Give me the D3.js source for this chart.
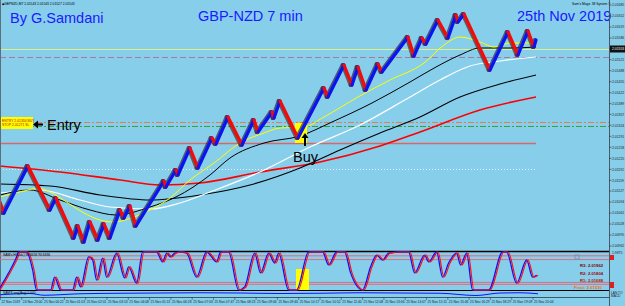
<!DOCTYPE html>
<html><head><meta charset="utf-8">
<script src="https://cdn.jsdelivr.net/npm/d3@7"></script>
<style>html,body{margin:0;padding:0;background:#87CEEB;overflow:hidden}text{font-family:"Liberation Sans",Arial,sans-serif}</style>
</head><body><svg id="c" width="625" height="306"></svg>
<script>
// ---------- DATA ----------
const pivotBar = [0,2,14,25,28,37,39,42,45,49,52,55,60,62,65,68,82,83,88,89,95,99,106,108,114,121,127,129,136,137,140,149,162,164,172,176,179,183,189,191,204,207,211,213,219,224,228,229,232,245,254,259,264,267,268];
const pivotPrice = [2.01094,2.01061,2.01202,2.01070,2.01106,2.00986,2.01022,2.00974,2.01034,2.00980,2.01028,2.00986,2.01070,2.01046,2.01082,2.01022,2.01157,2.01139,2.01190,2.01175,2.01256,2.01196,2.01286,2.01268,2.01349,2.01265,2.01340,2.01304,2.01364,2.01346,2.01397,2.01286,2.01436,2.01409,2.01505,2.01445,2.01499,2.01430,2.01508,2.01484,2.01589,2.01532,2.01586,2.01568,2.01640,2.01586,2.01655,2.01634,2.01658,2.01490,2.01604,2.01535,2.01607,2.01559,2.01580];

const yellowBar = [0,14,19,25,34,42,50,57,67,75,85,95,107,120,132,140,152,162,179,195,212,222,230,240,247,255,268];
const yellowVal = [2.01109,2.01130,2.01136,2.01124,2.01091,2.01061,2.01040,2.01034,2.01049,2.01070,2.01106,2.01160,2.01211,2.01271,2.01301,2.01316,2.01319,2.01349,2.01409,2.01460,2.01511,2.01565,2.01589,2.01574,2.01559,2.01571,2.01571];
const fastBlackBar = [0,15,30,45,58,75,88,105,115,132,150,166,186,205,218,230,240,255,268];
const fastBlackVal = [2.01115,2.01130,2.01100,2.01070,2.01055,2.01079,2.01109,2.01175,2.01226,2.01271,2.01292,2.01334,2.01391,2.01454,2.01499,2.01535,2.01556,2.01556,2.01559];
const whiteBar = [0,20,40,55,75,90,105,130,155,180,205,220,235,250,268];
const whiteVal = [2.01121,2.01130,2.01100,2.01079,2.01073,2.01091,2.01124,2.01184,2.01259,2.01325,2.01409,2.01460,2.01502,2.01517,2.01529];
const slowBlackBar = [0,25,50,75,100,125,150,170,190,210,230,250,268];
const slowBlackVal = [2.01148,2.01142,2.01115,2.01100,2.01115,2.01145,2.01196,2.01250,2.01301,2.01349,2.01409,2.01448,2.01475];
const redMABar = [0,30,60,80,100,130,160,190,210,240,268];
const redMAVal = [2.01202,2.01184,2.01160,2.01145,2.01151,2.01184,2.01214,2.01262,2.01304,2.01370,2.01409];

const bidPrice = 2.01553;
const purpleLevel = 2.01529;
const entryLevel = 2.01334;
const entryLevel2 = 2.01322;
const stopLevel = 2.01271;
const dottedLevel = 2.01193;
const buyBar = 149;

const priceTicks = [2.01685,2.01652,2.01619,2.01586,2.01554,2.01521,2.01488,2.01455,2.01422,2.01389,2.01357,2.01324,2.01291,2.01258,2.01225,2.01192,2.01159,2.01127,2.01094,2.01061,2.01028,2.00995,2.00962];

const oscBar = [0,5,9,10,14,17,19,26,28,31,37,39,41,45,47,49,52,54,59,63,65,69,72,79,82,84,86,88,91,94,99,104,109,111,115,120,123,128,131,135,138,140,145,149,155,162,165,169,173,176,182,186,189,192,195,201,205,208,213,215,219,222,225,229,231,234,237,245,252,254,259,264,267,269];
const oscVal = [0,45,87,100,100,53,0,0,34,0,0,34,8,87,79,26,84,34,97,32,61,18,100,100,74,97,87,97,100,97,34,100,74,100,100,0,8,97,45,97,71,97,0,0,100,100,66,100,100,45,0,61,92,79,97,100,100,45,92,74,100,34,71,97,66,97,0,0,100,100,18,79,34,39];
const oscLevels = [90,80,20,15];

const p2Bar = [0,15,22,40,60,80,100,120,140,160,180,200,220,238,250,260,269];
const p2Val = [-0.3,0.2,-0.5,0.1,0.3,0.4,0.5,0.4,0.2,0.3,0.5,0.4,0.3,-0.6,0.4,0.5,0.1];

const pivotLabels = ["R3: 2.01962","R2: 2.01804","R1: 2.01688","Pivot: 2.01530"];
const pivotColors = ["#7a0000","#a00010","#b02000","#ff6a00"];

const timeLabels = ["22 Nov 2019","24 Nov 23:00","25 Nov 00:22","25 Nov 01:03","25 Nov 02:01","25 Nov 03:13","25 Nov 04:08","25 Nov 05:13","25 Nov 06:28","25 Nov 07:03","25 Nov 07:47","25 Nov 08:23","25 Nov 09:06","25 Nov 09:46","25 Nov 10:17","25 Nov 10:52","25 Nov 11:40","25 Nov 12:08","25 Nov 13:06","25 Nov 14:07","25 Nov 15:11","25 Nov 15:46","25 Nov 16:29","25 Nov 18:29","25 Nov 19:09","25 Nov 20:04"];

// ---------- LAYOUT ----------
const svg = d3.select("#c");
const plotR = 609, mainB = 251, oscT = 252, oscB = 290;
const x = d3.scaleLinear().domain([0,304.5]).range([0,plotR]);
const y = d3.scaleLinear().domain([2.01700, 2.01700-0.00003*mainB]).range([0,mainB]);
const yo = d3.scaleLinear().domain([0,100]).range([oscB,oscT]);
const y2 = d3.scaleLinear().domain([-1,1]).range([296.5,291.5]);

svg.append("rect").attr("width",625).attr("height",306).attr("fill","#87CEEB");
svg.append("defs").append("clipPath").attr("id","mc").append("rect").attr("width",plotR).attr("height",mainB);
const g = svg.append("g").attr("clip-path","url(#mc)");

function hline(p, x0, x1, col, w, dash){
  g.append("line").attr("x1",x0).attr("x2",x1).attr("y1",Math.round(y(p))+0.5).attr("y2",Math.round(y(p))+0.5)
   .attr("stroke",col).attr("stroke-width",w).attr("stroke-dasharray",dash||null);
}
hline(bidPrice,0,plotR,"#dff08a",1);
hline(purpleLevel,0,plotR,"#b07898",1,"6,3");
hline(entryLevel,0,plotR,"#f07850",1,"6,2,2,2");
hline(entryLevel2,0,plotR,"#34a040",1,"6,2,2,2");
hline(stopLevel,0,x(268),"#d86868",1.6);
hline(dottedLevel,0,x(268),"#e4f2ff",1,"1,2");

// moving averages
function ma(bars, vals, col, w){
  const pts = bars.map((b,i)=>[x(b), y(vals[i])]);
  g.append("path").attr("d", d3.line().curve(d3.curveMonotoneX)(pts))
   .attr("fill","none").attr("stroke",col).attr("stroke-width",w);
}
ma(redMABar, redMAVal, "#ff0000", 1.6);
ma(slowBlackBar, slowBlackVal, "#000000", 1.1);
ma(whiteBar, whiteVal, "#ffffff", 1.2);
ma(fastBlackBar, fastBlackVal, "#000000", 1);
ma(yellowBar, yellowVal, "#ffff00", 1);

// buy highlight box
g.append("rect").attr("x",x(buyBar-1.5)).attr("y",y(entryLevel)+1).attr("width",12).attr("height",y(stopLevel)-y(entryLevel)-1).attr("fill","#ffff00");

// renko price path
const pts = pivotBar.map((b,i)=>({b, p:pivotPrice[i]}));
const segs = d3.pairs(pts);
g.selectAll("line.sh").data(segs).join("line").attr("class","sh")
  .attr("x1",d=>x(d[0].b)-1.3).attr("y1",d=>y(d[0].p)).attr("x2",d=>x(d[1].b)-1.3).attr("y2",d=>y(d[1].p))
  .attr("stroke",d=>d[1].p>d[0].p?"#2a2a50":"#502a2a").attr("stroke-width",4).attr("stroke-linecap","round").attr("opacity",0.7);
g.selectAll("line.pr").data(segs).join("line").attr("class","pr")
  .attr("x1",d=>x(d[0].b)).attr("y1",d=>y(d[0].p)).attr("x2",d=>x(d[1].b)).attr("y2",d=>y(d[1].p))
  .attr("stroke",d=>d[1].p>d[0].p?"#0a14f0":"#f50a0a").attr("stroke-width",3.2).attr("stroke-linecap","round");

// Entry annotation
g.append("rect").attr("x",0).attr("y",117).attr("width",33).attr("height",12).attr("fill","#ffff00");
g.append("text").attr("x",2).attr("y",121.5).attr("font-size",3.4).attr("fill","#c00000").text("ENTRY 2.01334 BUY");
g.append("text").attr("x",2).attr("y",126).attr("font-size",3.4).attr("fill","#c00000").text("STOP 2.01271 SL");
g.append("line").attr("x1",43).attr("x2",36).attr("y1",124.5).attr("y2",124.5).attr("stroke","#000").attr("stroke-width",2);
g.append("path").attr("d","M33,124.5L38,120.5L38,128.5Z").attr("fill","#000");
g.append("text").attr("x",47).attr("y",130).attr("font-size",14.5).attr("fill","#000").text("Entry");
// Buy annotation
g.append("line").attr("x1",x(buyBar)+7).attr("x2",x(buyBar)+7).attr("y1",146).attr("y2",137).attr("stroke","#000").attr("stroke-width",2);
g.append("path").attr("d",`M${x(buyBar)+7},133L${x(buyBar)+3.5},138L${x(buyBar)+10.5},138Z`).attr("fill","#000");
g.append("text").attr("x",293).attr("y",162).attr("font-size",14.5).attr("fill","#000").text("Buy");

// titles
svg.append("text").attr("x",10).attr("y",23).attr("font-size",14.5).attr("fill","#1a1aff").text("By G.Samdani");
svg.append("text").attr("x",198).attr("y",20.5).attr("font-size",14.5).attr("fill","#1a1aff").text("GBP-NZD 7 min");
svg.append("text").attr("x",517).attr("y",21).attr("font-size",14.5).attr("fill","#1a1aff").text("25th Nov 2019");
svg.append("text").attr("x",2).attr("y",5).attr("font-size",3.3).attr("fill","#000").text("\u25C6GBPNZD,M7 2.01543 2.01543 2.01527 2.01543");
svg.append("text").attr("x",572).attr("y",5).attr("font-size",3.3).attr("fill","#000").text("Sam's Magic 38 System \u00A9");

// frame and right axis
svg.append("line").attr("x1",0.5).attr("x2",0.5).attr("y1",0).attr("y2",297).attr("stroke","#5a7080");
svg.append("line").attr("x1",plotR+0.5).attr("x2",plotR+0.5).attr("y1",0).attr("y2",306).attr("stroke","#4a5868");
const ax = svg.append("g");
ax.selectAll("line").data(priceTicks).join("line").attr("x1",plotR).attr("x2",plotR+2.5).attr("y1",d=>y(d)).attr("y2",d=>y(d)).attr("stroke","#333").attr("stroke-width",0.6);
ax.selectAll("text").data(priceTicks).join("text").attr("x",612).attr("y",d=>y(d)+1.2).attr("font-size",3.4).attr("fill","#222").text(d=>d.toFixed(5));
svg.append("rect").attr("x",plotR+1).attr("y",y(bidPrice)-3.5).attr("width",15).attr("height",7).attr("fill","#111");
svg.append("text").attr("x",612).attr("y",y(bidPrice)+1.2).attr("font-size",3.4).attr("fill","#fff").text(bidPrice.toFixed(5));

// panel separators
svg.append("line").attr("x1",0).attr("x2",plotR).attr("y1",mainB+0.5).attr("y2",mainB+0.5).attr("stroke","#000").attr("stroke-width",1.5);
svg.append("line").attr("x1",0).attr("x2",plotR).attr("y1",oscB+0.5).attr("y2",oscB+0.5).attr("stroke","#000").attr("stroke-width",1);
svg.append("line").attr("x1",0).attr("x2",plotR).attr("y1",297.5).attr("y2",297.5).attr("stroke","#2a3a4a").attr("stroke-width",0.8);

// oscillator
const og = svg.append("g");
og.selectAll("line.lv").data(oscLevels).join("line").attr("class","lv").attr("x1",0).attr("x2",plotR)
  .attr("y1",d=>yo(d)).attr("y2",d=>yo(d)).attr("stroke","#e46a7a").attr("stroke-width",1);
og.append("rect").attr("x",x(148)).attr("y",269).attr("width",13).attr("height",21).attr("fill","#ffff00");
const oscPts = oscBar.map((b,i)=>[x(b), yo(oscVal[i])]);
const oline = d3.line().curve(d3.curveMonotoneX);
og.append("path").attr("d",oline(oscPts.map(p=>[p[0]-1.4,p[1]]))).attr("fill","none").attr("stroke","#1010ff").attr("stroke-width",1.3);
og.append("path").attr("d",oline(oscPts)).attr("fill","none").attr("stroke","#ff1010").attr("stroke-width",1.2);
og.append("text").attr("x",3).attr("y",255.5).attr("font-size",3.3).attr("fill","#000").text("SAM's H(Calc) 94.6636 94.6636");
og.selectAll("text.pv").data(pivotLabels).join("text").attr("class","pv")
  .attr("x",(d,i)=>i==3?574:580).attr("y",(d,i)=>[267,274.5,281.5,289][i]).attr("font-size",4.2).attr("font-weight","bold")
  .attr("fill",(d,i)=>pivotColors[i]).text(d=>d);
og.append("rect").attr("x",575).attr("y",255).attr("width",4).attr("height",4).attr("fill","none").attr("stroke","#7090b0").attr("stroke-width",0.8);
og.append("rect").attr("x",610).attr("y",255).attr("width",4).attr("height",5).attr("fill","#e02020");
og.append("rect").attr("x",610).attr("y",282).attr("width",4).attr("height",6).attr("fill","#e02020");
og.append("text").attr("x",612).attr("y",253.5).attr("font-size",3.4).attr("fill","#222").text("1.9875");

// second panel
svg.append("path").attr("d",d3.line().curve(d3.curveMonotoneX)(p2Bar.map((b,i)=>[x(b),y2(p2Val[i])]))).attr("fill","none").attr("stroke","#1010ff").attr("stroke-width",1);
svg.append("text").attr("x",3).attr("y",294).attr("font-size",3.2).attr("fill","#000").text("SAM'S ang(Ang) 0.000");
svg.append("text").attr("x",611).attr("y",293.5).attr("font-size",3.2).attr("fill","#222").text("LAN.TO");
svg.append("text").attr("x",611).attr("y",297).attr("font-size",3.2).attr("fill","#222").text("MACD");

// time axis
const tg = svg.append("g");
tg.selectAll("line").data(timeLabels).join("line").attr("x1",(d,i)=>x(i*10.65)+0.5).attr("x2",(d,i)=>x(i*10.65)+0.5).attr("y1",297).attr("y2",300).attr("stroke","#333").attr("stroke-width",0.5);
tg.selectAll("text").data(timeLabels).join("text").attr("x",(d,i)=>x(i*10.65)+1.5).attr("y",302.5).attr("font-size",3.3).attr("fill","#222").text(d=>d);
</script></body></html>
